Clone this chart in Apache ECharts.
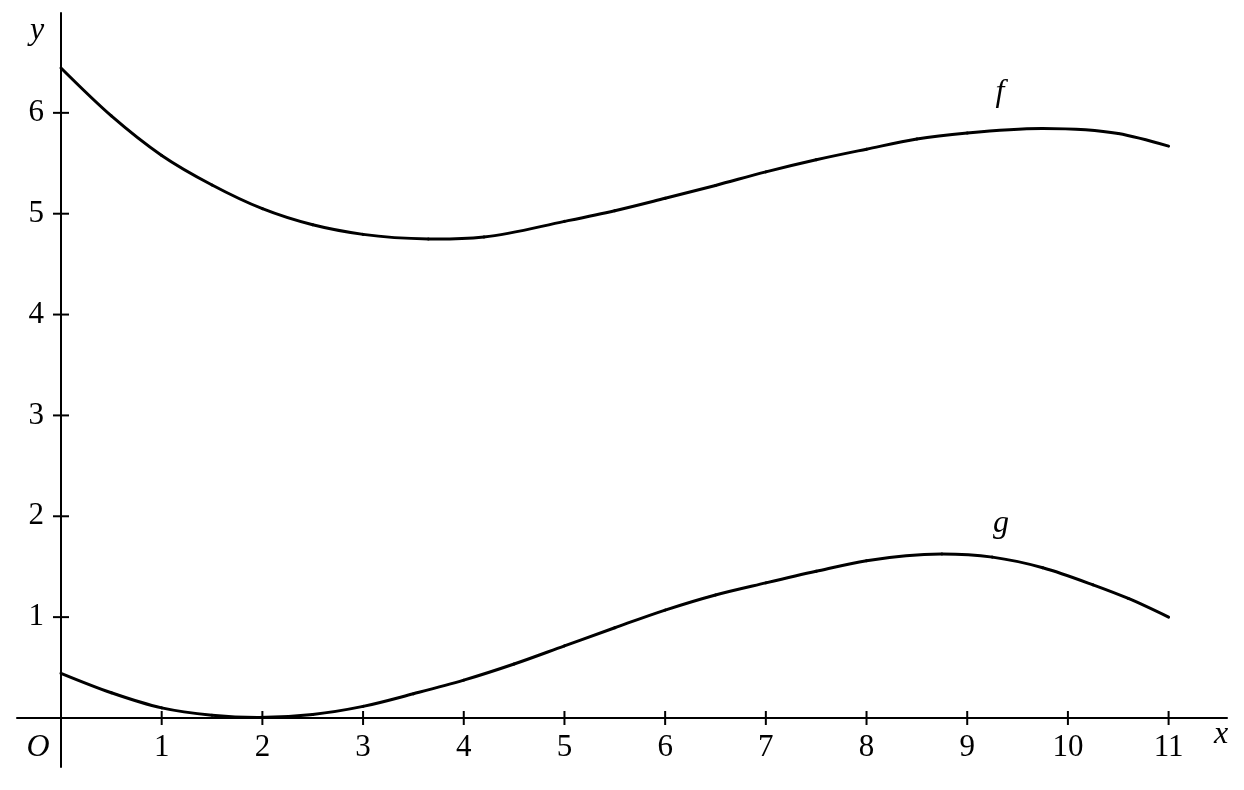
<!DOCTYPE html>
<html>
<head>
<meta charset="utf-8">
<script src="https://cdn.jsdelivr.net/npm/echarts@6/dist/echarts.min.js"></script>
<style>
html,body{margin:0;padding:0;background:#fff;}
#chart{width:1244px;height:790px;}
</style>
</head>
<body>
<div id="chart"></div>
<script>
// Data
const fX = [0,0.5,1,1.5,2,2.5,3,3.65,4.2,5,5.5,6,6.5,7,7.5,8,8.5,9,9.75,10.5,11];
const fValues = [6.445,5.97,5.578,5.285,5.05,4.89,4.795,4.75,4.77,4.924,5.03,5.153,5.28,5.415,5.535,5.64,5.74,5.80,5.845,5.795,5.67];
const gX = [0,0.5,1,1.5,1.95,2.5,3,3.5,4,4.5,5,5.5,6,6.5,7,7.5,8,8.75,9.25,9.75,10.25,10.6,11];
const gValues = [0.443,0.25,0.10,0.028,0.005,0.035,0.115,0.24,0.375,0.535,0.715,0.895,1.07,1.22,1.34,1.455,1.56,1.627,1.595,1.49,1.32,1.185,1.00];
const xTicks = [1,2,3,4,5,6,7,8,9,10,11];
const yTicks = [1,2,3,4,5,6];
const xTickLabels = ['1','2','3','4','5','6','7','8','9','10','11'];
const yTickLabels = ['1','2','3','4','5','6'];
const xRange = [-0.437, 11.58];
const yRange = [-0.486, 6.99];

const SERIF = 'Liberation Serif';

const chart = echarts.init(document.getElementById('chart'), null, {renderer:'canvas'});

function pairs(a, b){ return a.map((v,i)=>[v, b[i]]); }

// tangents (data space) for a smooth cubic Hermite curve through the read points
function tangents(xa, ya){
  const n = xa.length, m = new Array(n);
  for (let i = 1; i < n-1; i++){
    const h0 = xa[i]-xa[i-1], h1 = xa[i+1]-xa[i];
    const d0 = (ya[i]-ya[i-1])/h0, d1 = (ya[i+1]-ya[i])/h1;
    m[i] = (d1*h0 + d0*h1)/(h0+h1);
  }
  const dS = (ya[1]-ya[0])/(xa[1]-xa[0]);
  const dE = (ya[n-1]-ya[n-2])/(xa[n-1]-xa[n-2]);
  m[0] = (3*dS - m[1])/2;
  m[n-1] = (3*dE - m[n-2])/2;
  return m;
}

function curveSeries(name, xa, ya){
  const m = tangents(xa, ya);
  return {
    name: name, type: 'custom', silent: true, clip: false,
    data: pairs(xa, ya),
    renderItem: function(params, api){
      const i = params.dataIndex;
      if (i >= xa.length-1) return null;
      const h = xa[i+1]-xa[i];
      const p0 = api.coord([xa[i], ya[i]]);
      const p3 = api.coord([xa[i+1], ya[i+1]]);
      const c1 = api.coord([xa[i]+h/3, ya[i]+m[i]*h/3]);
      const c2 = api.coord([xa[i+1]-h/3, ya[i+1]-m[i+1]*h/3]);
      return {type:'bezierCurve',
        shape:{x1:p0[0], y1:p0[1], x2:p3[0], y2:p3[1], cpx1:c1[0], cpy1:c1[1], cpx2:c2[0], cpy2:c2[1]},
        style:{stroke:'#000', lineWidth:3, fill:null, lineCap:'round'}};
    }
  };
}

const option = {
  animation: false,
  backgroundColor: '#fff',
  grid: {left: 17, right: 17, top: 13, bottom: 23, containLabel: false, outerBoundsMode: 'none'},
  xAxis: {
    type: 'value', min: xRange[0], max: xRange[1],
    axisLine: {show: true, onZero: true, lineStyle: {color: '#000', width: 2}},
    axisTick: {show: false},
    splitLine: {show: false},
    axisLabel: {show: false}
  },
  yAxis: {
    type: 'value', min: yRange[0], max: yRange[1],
    axisLine: {show: true, onZero: true, lineStyle: {color: '#000', width: 2}},
    axisTick: {show: false},
    splitLine: {show: false},
    axisLabel: {show: false}
  },
  series: [
    curveSeries('f', fX, fValues),
    curveSeries('g', gX, gValues),
    {
      type: 'custom', silent: true, clip: false,
      data: xTicks.map((v,i)=>[v,0,i]),
      renderItem: function(params, api){
        const p = api.coord([api.value(0), 0]);
        const i = api.value(2);
        return {type:'group', children:[
          {type:'line', shape:{x1:p[0], y1:p[1]-7, x2:p[0], y2:p[1]+7},
            style:{stroke:'#000', lineWidth:2}},
          {type:'text', x:p[0], y:p[1]+30,
            style:{text:xTickLabels[i], fontFamily:SERIF, fontSize:31, fill:'#000',
              align:'center', verticalAlign:'middle'}}
        ]};
      }
    },
    {
      type: 'custom', silent: true, clip: false,
      data: yTicks.map((v,i)=>[0,v,i]),
      renderItem: function(params, api){
        const p = api.coord([0, api.value(1)]);
        const i = api.value(2);
        return {type:'group', children:[
          {type:'line', shape:{x1:p[0]-8, y1:p[1], x2:p[0]+8, y2:p[1]},
            style:{stroke:'#000', lineWidth:2}},
          {type:'text', x:p[0]-17, y:p[1],
            style:{text:yTickLabels[i], fontFamily:SERIF, fontSize:31, fill:'#000',
              align:'right', verticalAlign:'middle'}}
        ]};
      }
    }
  ],
  graphic: [
    {type:'text', x: 37, y: 31, style:{text:'y', fontFamily:SERIF, fontStyle:'italic', fontSize:32, fill:'#000', align:'center', verticalAlign:'middle'}},
    {type:'text', x: 1221, y: 735, style:{text:'x', fontFamily:SERIF, fontStyle:'italic', fontSize:32, fill:'#000', align:'center', verticalAlign:'middle'}},
    {type:'text', x: 38, y: 748, style:{text:'O', fontFamily:SERIF, fontStyle:'italic', fontSize:32, fill:'#000', align:'center', verticalAlign:'middle'}},
    {type:'text', x: 1000, y: 93, style:{text:'f', fontFamily:SERIF, fontStyle:'italic', fontSize:32, fill:'#000', align:'center', verticalAlign:'middle'}},
    {type:'text', x: 1001, y: 524, style:{text:'g', fontFamily:SERIF, fontStyle:'italic', fontSize:32, fill:'#000', align:'center', verticalAlign:'middle'}}
  ]
};
chart.setOption(option);
</script>
</body>
</html>
